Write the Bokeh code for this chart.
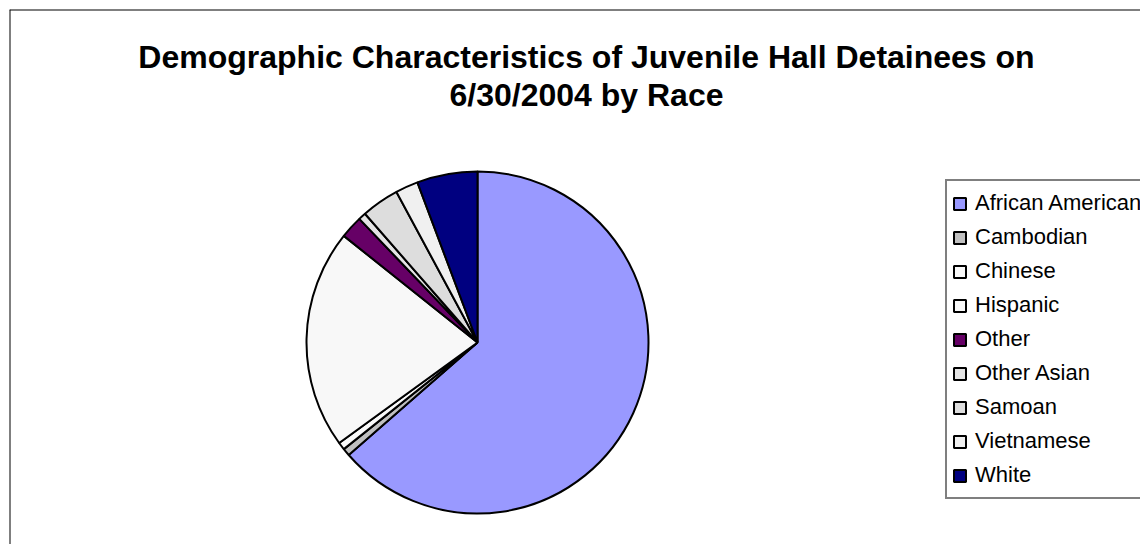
import numpy as np
from bokeh.plotting import figure
from bokeh.models import ColumnDataSource, Legend, LegendItem, Label, Span, Range1d
from bokeh.embed import file_html
from bokeh.resources import INLINE

# ---- data ----
races = ["African American", "Cambodian", "Chinese", "Hispanic", "Other",
         "Other Asian", "Samoan", "Vietnamese", "White"]
counts = [89, 1, 1, 29, 3, 1, 5, 3, 8]
colors = ["#9999FF", "#C0C0C0", "#FAFAFA", "#F8F8F8", "#660066",
          "#E4E4E4", "#DDDDDD", "#F0F0F0", "#000080"]
title_lines = ["Demographic Characteristics of Juvenile Hall Detainees on",
               "6/30/2004 by Race"]

# ---- layout (pixels on the canvas) ----
W, H = 1140, 544
ML, MT = 9, 9              # frame offset -> chart-area border at 8..10 px
R_PX = 171
CX, CY = 477, 342          # pie centre on the canvas
scale = float(R_PX)
x0 = -(CX - ML) / scale
x1 = (W - CX) / scale
y1 = (CY - MT) / scale
y0 = -(H - CY) / scale

vals = np.array(counts, dtype=float)
fr = vals / vals.sum()
cum = np.concatenate([[0.0], np.cumsum(fr)])
start = np.pi / 2 - 2 * np.pi * cum[:-1]
end = np.pi / 2 - 2 * np.pi * cum[1:]

src = ColumnDataSource(dict(race=races, count=counts, color=colors,
                            start=start, end=end))

p = figure(width=W, height=H, x_range=Range1d(x0, x1), y_range=Range1d(y0, y1),
           output_backend="svg", toolbar_location=None,
           x_axis_location=None, y_axis_location=None,
           min_border_left=ML, min_border_top=MT,
           min_border_right=0, min_border_bottom=0)
p.grid.visible = False
p.outline_line_color = None
p.background_fill_color = "white"
p.border_fill_color = "white"

r = p.wedge(x=0, y=0, radius=1, start_angle="start", end_angle="end",
            direction="clock", fill_color="color", line_color="black",
            line_width=2, source=src)

# chart-area frame (top and left edges visible in the window)
p.add_layout(Span(location=x0, dimension="height", line_color="black", line_width=2))
p.add_layout(Span(location=y1, dimension="width", line_color="black", line_width=2))

# title (two centred lines)
for txt, base in zip(title_lines, [56, 94]):
    p.add_layout(Label(x=586 - ML, y=H - base, x_units="screen", y_units="screen",
                       text=txt, text_align="center", text_baseline="alphabetic",
                       text_font="Liberation Sans", text_font_style="bold",
                       text_font_size="32px", text_color="black"))

items = [LegendItem(label=race, renderers=[r], index=i) for i, race in enumerate(races)]
legend = Legend(items=items, location=(945 - ML, H - 499),
                label_text_font="Liberation Sans", label_text_font_size="22px",
                label_text_color="black",
                glyph_width=15, glyph_height=15, label_height=34, spacing=0,
                padding=5, label_standoff=8,
                border_line_color="black", border_line_width=2,
                background_fill_color="white", background_fill_alpha=1.0)
p.add_layout(legend, "center")

open("out.html", "w").write(file_html(p, INLINE))
